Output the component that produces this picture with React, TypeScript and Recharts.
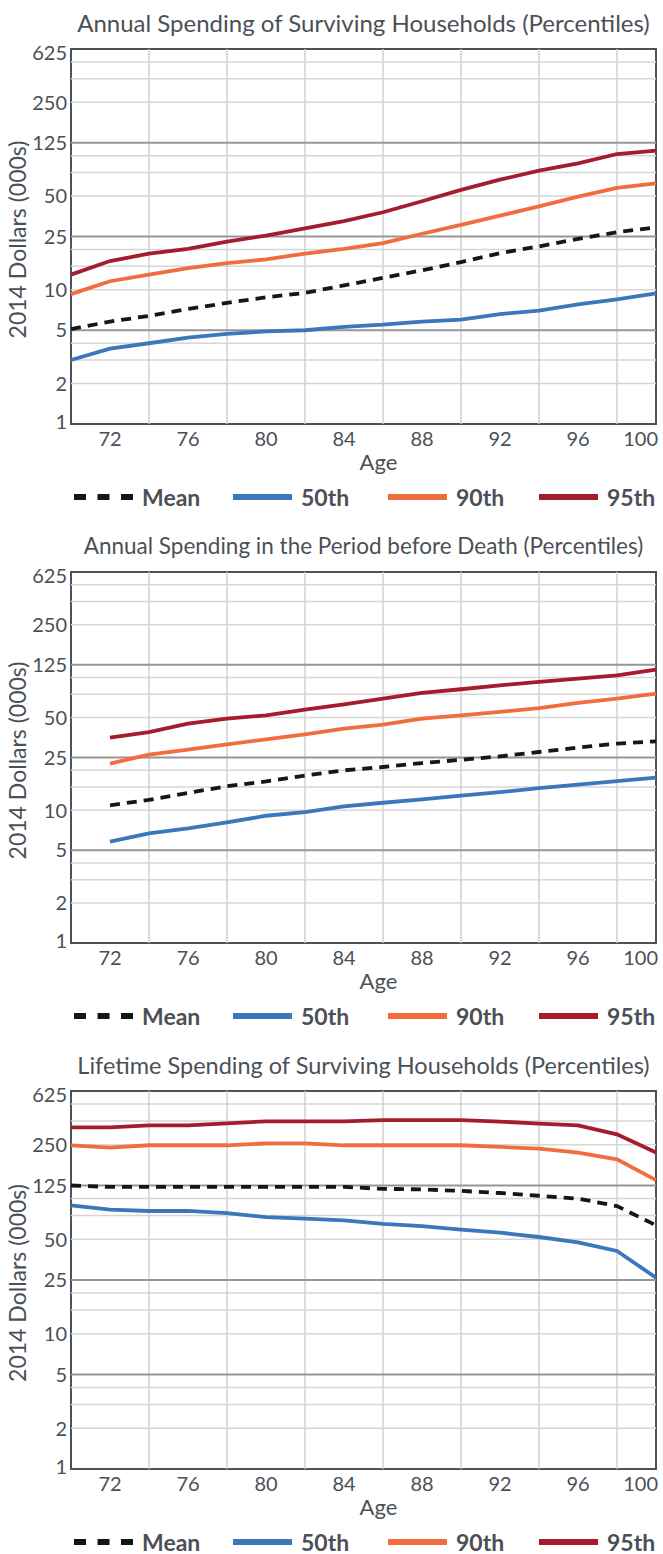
import React from 'react';
import { LineChart, Line, XAxis, YAxis, ReferenceLine, ReferenceArea } from 'recharts';

const ages = [70, 72, 74, 76, 78, 80, 82, 84, 86, 88, 90, 92, 94, 96, 98, 100];
const ageTicks = [72, 76, 80, 84, 88, 92, 96, 100];
const ageGrid = [74, 78, 82, 86, 90, 94, 98];
const dollarTicks = [1, 2, 5, 10, 25, 50, 125, 250, 625];
const minorLevels = [2, 3, 4, 10, 15, 20, 50, 75, 100, 250, 375, 500];
const majorLevels = [5, 25, 125];

// annual spending, surviving households
const survMean = [5.1, 5.8, 6.4, 7.2, 8.0, 8.8, 9.5, 10.8, 12.3, 14.0, 16.1, 18.8, 21.1, 24.0, 26.9, 29.3];
const survP50 = [3.0, 3.65, 4.0, 4.4, 4.7, 4.9, 5.0, 5.3, 5.5, 5.8, 6.0, 6.6, 7.0, 7.8, 8.5, 9.4];
const survP90 = [9.3, 11.6, 13.0, 14.5, 15.8, 16.9, 18.6, 20.2, 22.3, 26.2, 30.5, 35.8, 42.0, 49.6, 57.5, 62.3];
const survP95 = [13.0, 16.4, 18.6, 20.2, 22.9, 25.4, 28.8, 32.5, 37.9, 45.8, 55.6, 66.3, 77.4, 87.7, 103, 109];

// annual spending in the period before death (starts at 72)
const deathMean = [null, 10.9, 12.0, 13.5, 15.2, 16.5, 18.3, 20.0, 21.2, 22.7, 24.0, 25.5, 27.5, 29.7, 31.8, 33.1];
const deathP50 = [null, 5.8, 6.7, 7.3, 8.1, 9.1, 9.7, 10.7, 11.4, 12.1, 12.9, 13.7, 14.7, 15.6, 16.6, 17.6];
const deathP90 = [null, 22.5, 26.3, 28.7, 31.4, 34.3, 37.4, 41.3, 44.2, 49.1, 52.0, 55.1, 59.0, 64.4, 69.5, 75.8];
const deathP95 = [null, 35.3, 38.9, 45.0, 49.1, 52.0, 57.4, 62.9, 69.5, 76.6, 81.7, 87.5, 92.7, 98.3, 104, 115];

// lifetime spending, surviving households
const lifeMean = [125, 122, 122, 122, 122, 122, 122, 122, 118, 117, 114, 110, 105, 100, 88, 63.5];
const lifeP50 = [89, 83, 81, 81, 78, 73, 71, 69, 65, 62.5, 59, 56, 52, 47.5, 41, 26];
const lifeP90 = [248, 238, 248, 248, 248, 256, 256, 248, 248, 248, 248, 241, 234, 219, 195, 137];
const lifeP95 = [336, 336, 348, 348, 360, 373, 373, 373, 381, 381, 381, 371, 359, 348, 299, 219];

const FONT = 'Lato, "Open Sans", sans-serif';
const TEXT = '#4c5056';

const series = [
  { key: 'mean', name: 'Mean', color: '#161616', dash: '10 7' },
  { key: 'p50', name: '50th', color: '#3b77bc' },
  { key: 'p90', name: '90th', color: '#f26d3d' },
  { key: 'p95', name: '95th', color: '#a51c2c' },
];
const legendLeft = [74, 233, 388, 539];

function rows(mean: any[], p50: any[], p90: any[], p95: any[]) {
  return ages.map((age, i) => ({ age, mean: mean[i], p50: p50[i], p90: p90[i], p95: p95[i] }));
}

function YTick({ x, y, payload }: any) {
  const v = payload.value;
  const nudge = v === 625 ? 4 : v === 1 ? -2 : 0;
  return (
    <text x={x} y={y + nudge} dy="0.36em" textAnchor="end" fill={TEXT} fontSize={20} fontFamily={FONT}>
      {v}
    </text>
  );
}

function XTick({ x, y, payload }: any) {
  const last = payload.value === 100;
  return (
    <text x={last ? x + 7 : x} y={y + 7} dy="0.36em" textAnchor={last ? 'end' : 'middle'} fill={TEXT} fontSize={20} fontFamily={FONT}>
      {payload.value}
    </text>
  );
}

function Panel({ title, titleSize, data, top, plotTop, plotBottom }: any) {
  const h = plotBottom - top + 50;
  return (
    <div style={{ position: 'absolute', left: 0, top, width: 663 }}>
      <div
        style={{
          position: 'absolute', left: 71, width: 585, top: plotTop - top - 25 - 15,
          textAlign: 'center', fontSize: titleSize, lineHeight: '28px', color: TEXT, whiteSpace: 'nowrap',
        }}
      >
        {title}
      </div>
      <LineChart width={663} height={h} data={data} margin={{ top: plotTop - top, right: 7, bottom: 0, left: 0 }}>
        <XAxis
          dataKey="age"
          type="number"
          domain={[70, 100]}
          ticks={ageTicks}
          tick={<XTick />}
          tickLine={false}
          axisLine={false}
          tickSize={0}
          tickMargin={8}
          height={50}
          label={{
            content: ({ viewBox }: any) => (
              <text
                x={viewBox.x + viewBox.width / 2 + 15}
                y={viewBox.y + 46}
                textAnchor="middle"
                fill={TEXT}
                fontSize={22}
                fontFamily={FONT}
              >
                Age
              </text>
            ),
          }}
        />
        <YAxis
          type="number"
          scale="log"
          domain={[1, 625]}
          ticks={dollarTicks}
          allowDataOverflow
          tick={<YTick />}
          tickLine={false}
          axisLine={false}
          tickSize={0}
          tickMargin={4}
          width={71}
          label={{
            content: ({ viewBox }: any) => {
              const cx = 18;
              const cy = viewBox.y + viewBox.height / 2 + 3;
              return (
                <text
                  transform={`translate(${cx},${cy}) rotate(-90)`}
                  dy="0.36em"
                  textAnchor="middle"
                  fill={TEXT}
                  fontSize={23}
                  fontFamily={FONT}
                >
                  2014 Dollars (000s)
                </text>
              );
            },
          }}
        />
        {minorLevels.map((v) => (
          <ReferenceLine key={'m' + v} y={v} stroke="#d6d6d6" strokeWidth={1.5} />
        ))}
        {ageGrid.map((a) => (
          <ReferenceLine key={'a' + a} x={a} stroke="#d0d0d0" strokeWidth={1.5} />
        ))}
        {majorLevels.map((v) => (
          <ReferenceLine key={'M' + v} y={v} stroke="#969696" strokeWidth={2} />
        ))}
        {series.map((s) => (
          <Line
            key={s.key}
            type="linear"
            dataKey={s.key}
            name={s.name}
            stroke={s.color}
            strokeWidth={3.8}
            strokeDasharray={s.dash}
            dot={false}
            activeDot={false}
            isAnimationActive={false}
          />
        ))}
        <ReferenceArea x1={70} x2={100} y1={1} y2={625} fill="none" stroke="#4d5259" strokeWidth={2} />
      </LineChart>
      <div style={{ position: 'absolute', left: 0, top: plotBottom - top + 73 - 13, width: 663, height: 26 }}>
        {series.map((s, i) => (
          <div key={s.key} style={{ position: 'absolute', left: legendLeft[i], top: 0, height: 26, display: 'flex', alignItems: 'center' }}>
            <svg width={59} height={8} style={{ display: 'block' }}>
              <line x1={0} y1={4} x2={59} y2={4} stroke={s.color} strokeWidth={6} strokeDasharray={s.dash ? '12 11.5' : undefined} />
            </svg>
            <span style={{ marginLeft: 9, fontSize: 23, fontWeight: 700, color: TEXT, lineHeight: '26px' }}>{s.name}</span>
          </div>
        ))}
      </div>
    </div>
  );
}

export default function App() {
  return (
    <div style={{ position: 'absolute', left: 0, top: 0, width: 663, height: 1554, background: '#fff', fontFamily: FONT }}>
      <Panel
        title="Annual Spending of Surviving Households (Percentiles)"
        titleSize={24}
        data={rows(survMean, survP50, survP90, survP95)}
        top={0}
        plotTop={49}
        plotBottom={424}
      />
      <Panel
        title="Annual Spending in the Period before Death (Percentiles)"
        titleSize={22.5}
        data={rows(deathMean, deathP50, deathP90, deathP95)}
        top={518}
        plotTop={572}
        plotBottom={943}
      />
      <Panel
        title="Lifetime Spending of Surviving Households (Percentiles)"
        titleSize={23.5}
        data={rows(lifeMean, lifeP50, lifeP90, lifeP95)}
        top={1040}
        plotTop={1091}
        plotBottom={1469}
      />
    </div>
  );
}
